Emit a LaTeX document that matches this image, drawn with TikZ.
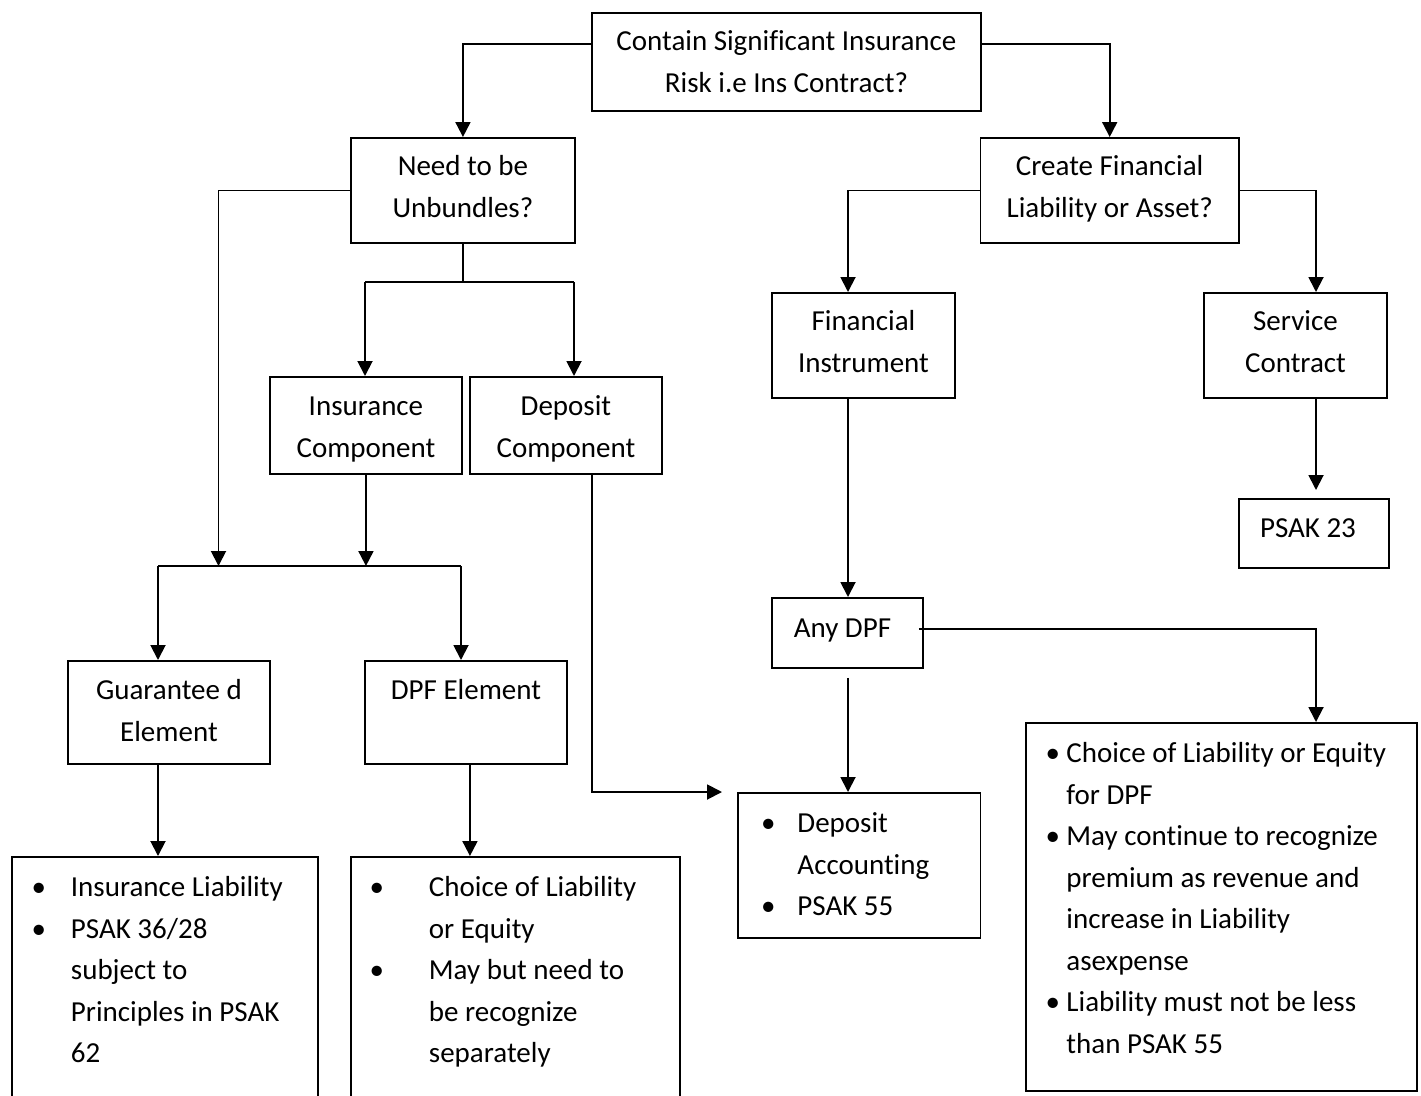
\documentclass[tikz,border=0pt]{standalone}
\usepackage{fontspec}
\setmainfont{Carlito}[Ligatures=NoCommon]
\usetikzlibrary{arrows.meta}
% bullet line: bullet centred at #1, text starting at #2
\newcommand\bitem[3]{\makebox[#2][l]{\hspace*{#1}\makebox[0pt]{\textbullet}}#3}
% continuation line of a bullet, indented to #1
\newcommand\cont[2]{\hspace*{#1}#2}
\newcommand\twolines[1]{\begin{tabular}[t]{@{}c@{}}#1\end{tabular}}
\begin{document}
\begin{tikzpicture}[x=1pt,y=-1pt,
  every node/.style={font=\fontsize{29}{41.5}\selectfont},
  box/.style={draw, line width=1.9pt, inner sep=0pt, anchor=north west},
  link/.style={line width=1.9pt},
  arr/.style={link, -{Triangle[length=15pt,width=15pt]}}]
\fill[white] (0,0) rectangle (1421,1095);
\useasboundingbox (0,0) rectangle (1421,1095);
\clip (0,0) rectangle (1421,1095);

% decision and component boxes
\node[box, minimum width=389pt, text height=38pt, text depth=60pt] (top) at (591,12)
  {\twolines{Contain Significant Insurance\\Risk i.e Ins Contract?}};
\node[box, minimum width=224pt, text height=38pt, text depth=67pt] (need) at (350,137)
  {\twolines{Need to be\\Unbundles?}};
\node[box, minimum width=258.5pt, text height=38pt, text depth=67pt] (create) at (979.5,137)
  {\twolines{Create Financial\\Liability or Asset?}};
\node[box, minimum width=192pt, text height=39pt, text depth=58pt] (insc) at (269,376)
  {\twolines{Insurance\\Component}};
\node[box, minimum width=192pt, text height=39pt, text depth=58pt] (depc) at (469,376)
  {\twolines{Deposit\\Component}};
\node[box, minimum width=183pt, text height=38pt, text depth=67pt] (fin) at (771,292)
  {\twolines{Financial\\Instrument}};
\node[box, minimum width=183pt, text height=38pt, text depth=67pt] (serv) at (1203,292)
  {\twolines{Service\\Contract}};
\node[box, minimum width=150pt, text height=38.7pt, text depth=30.3pt] (psak) at (1238,498)
  {PSAK 23\hspace*{12pt}};
\node[box, minimum width=151pt, text height=39.7pt, text depth=30.3pt] (anydpf) at (771,597)
  {Any DPF\hspace*{10pt}};
\node[box, minimum width=202pt, text height=39pt, text depth=64pt] (guar) at (67,660)
  {\twolines{Guarantee d\\Element}};
\node[box, minimum width=202pt, text height=39pt, text depth=64pt] (dpfe) at (364,660)
  {DPF Element};

% outcome boxes with bullet lists
\node[box, text height=40pt, text depth=240pt] (ilist) at (11,856)
  {\parbox[t]{306pt}{\bitem{27pt}{59pt}{Insurance Liability}\\
    \bitem{27pt}{59pt}{PSAK 36/28}\\
    \cont{59pt}{subject to}\\
    \cont{59pt}{Principles in PSAK}\\
    \cont{59pt}{62}}};
\node[box, text height=40pt, text depth=240pt] (dlist) at (350,856)
  {\parbox[t]{329pt}{\bitem{26pt}{78pt}{Choice of Liability}\\
    \cont{78pt}{or Equity}\\
    \bitem{26pt}{78pt}{May but need to}\\
    \cont{78pt}{be recognize}\\
    \cont{78pt}{separately}}};
\node[box, text height=40pt, text depth=105pt] (depacc) at (737,792)
  {\parbox[t]{242.5pt}{\bitem{30.5pt}{59.5pt}{Deposit}\\
    \cont{59.5pt}{Accounting}\\
    \bitem{30.5pt}{59.5pt}{PSAK 55}}};
\node[box, text height=40pt, text depth=328pt] (rlist) at (1025,722)
  {\parbox[t]{391pt}{\bitem{27pt}{40.5pt}{Choice of Liability or Equity}\\
    \cont{40.5pt}{for DPF}\\
    \bitem{27pt}{40.5pt}{May continue to recognize}\\
    \cont{40.5pt}{premium as revenue and}\\
    \cont{40.5pt}{increase in Liability}\\
    \cont{40.5pt}{asexpense}\\
    \bitem{27pt}{40.5pt}{Liability must not be less}\\
    \cont{40.5pt}{than PSAK 55}}};

% junction points of the connectors
\coordinate (lbar) at (218.5,566);
\coordinate (gbar) at (158,566);
\coordinate (dbar) at (461,566);
\coordinate (ubL) at (365,282);
\coordinate (ubR) at (574,282);
\coordinate (fx) at (848,193);
\coordinate (sx) at (1316,193);

% left branch
\draw[arr] ([yshift=18pt]top.west) -| (need.north);
\draw[link] (need.south) -- (need.south |- ubL);
\draw[link] (ubL) -- (ubR);
\draw[arr] (ubL) -- (ubL |- insc.north);
\draw[arr] (ubR) -- (ubR |- depc.north);
\draw[arr] (need.west) -| (lbar);
\draw[arr] (insc.south) -- (insc.south |- gbar);
\draw[link] (gbar) -- (dbar);
\draw[arr] (gbar) -- (gbar |- guar.north);
\draw[arr] (dbar) -- (dbar |- dpfe.north);
\draw[arr] (gbar |- guar.south) -- (gbar |- ilist.north);
\draw[arr] ([xshift=4pt]dpfe.south) -- ([xshift=4pt]dpfe.south |- dlist.north);
\draw[arr] ([xshift=26pt]depc.south) |- ([xshift=-15pt]depacc.north west);

% right branch
\draw[arr] ([yshift=18pt]top.east) -| (create.north);
\draw[arr] (create.west) -| (fx |- fin.north);
\draw[arr] (create.east) -| (sx |- serv.north);
\draw[arr, shorten >=8pt] (sx |- serv.south) -- (sx |- psak.north);
\draw[arr] (fx |- fin.south) -- (fx |- anydpf.north);
\draw[arr, shorten <=9pt] (fx |- anydpf.south) -- (fx |- depacc.north);
\draw[arr] ([xshift=-5pt,yshift=4pt]anydpf.east) -| (sx |- rlist.north);
\end{tikzpicture}
\end{document}
